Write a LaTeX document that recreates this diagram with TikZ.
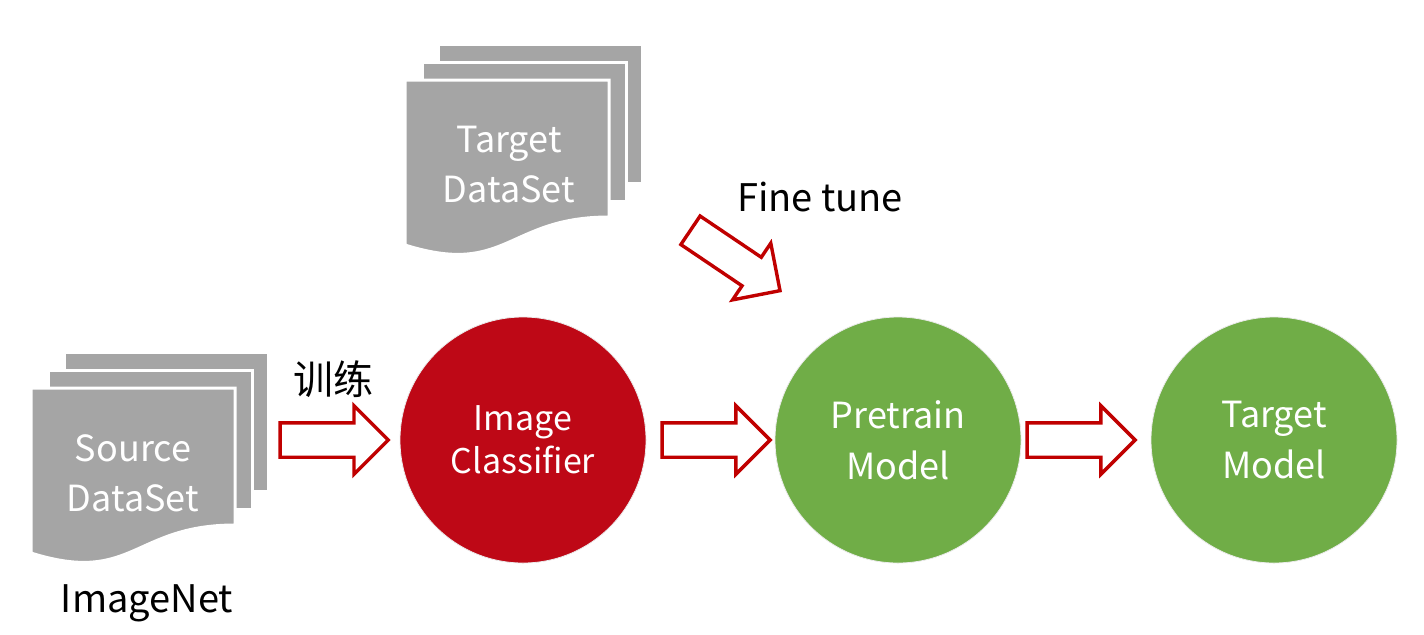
\documentclass[tikz,border=0pt]{standalone}
\usepackage{fontspec}
\setmainfont{Noto Sans CJK SC}
\usetikzlibrary{shapes.arrows,positioning}
\definecolor{clsred}{HTML}{BE0816}
\definecolor{modgreen}{HTML}{70AD47}
\definecolor{docgray}{HTML}{A5A5A5}
\definecolor{arrred}{HTML}{C00000}

\begin{document}
\begin{tikzpicture}[x=0.5pt,y=-0.5pt,
    page/.style={fill=docgray,draw=white,line width=1.5pt},
    model/.style={circle,minimum size=123pt,inner sep=0pt,draw=black!8,line width=0.4pt,
        text=white,align=center,font=\fontsize{18}{25.5}\selectfont},
    blockarrow/.style={single arrow,draw=arrred,fill=white,line width=1.7pt,
        inner xsep=0pt,inner ysep=7.75pt,minimum height=54pt,
        single arrow head extend=8.5pt,single arrow head indent=0pt},
    doctext/.style={text=white,align=center,font=\fontsize{18}{25}\selectfont},
    plain/.style={font=\fontsize{19}{23}\selectfont}]
    \useasboundingbox (0,0) rectangle (1424,634);
    % the two stacks of pages
    \foreach \sx/\sy in {0/0,374/-308} {
        \begin{scope}[shift={(\sx,\sy)}]
            \draw [page] (64,352) rectangle ++(204,139);
            \draw [page] (48,370) rectangle ++(204,139);
            \draw [page] (31,388) -- (235,388) -- (235,525)
                .. controls (133,525) and (133,585) .. (31,553) -- cycle;
        \end{scope}
    }
    \node [doctext] (source) at (133,473) {Source\\DataSet};
    \node [doctext] (target) at (509,165) {Target\\DataSet};
    \node [plain,anchor=base] (imagenet) at (147,612) {ImageNet};
    % models
    \node [model,fill=clsred,font=\fontsize{17}{21.5}\selectfont] (classifier) at (523,440) {Image\\Classifier};
    \node [model,fill=modgreen] (pretrain) at (898,440) {Pretrain\\Model};
    \node [model,fill=modgreen] (targetmodel) at (1274,440) {Target\\Model};
    % arrows
    \node [blockarrow,left=4.5pt of classifier] (trainarrow) {};
    \node [blockarrow,right=7pt of classifier] (pretrainarrow) {};
    \node [blockarrow,right=2pt of pretrain] (targetarrow) {};
    \node [blockarrow,rotate=-34,anchor=tip] (tunearrow) at (782,292) {};
    \node [plain,font=\fontsize{20}{24}\selectfont] (train) at (333,379) {训练};
    \node [plain,anchor=base] (finetune) at (820,211) {Fine tune};
\end{tikzpicture}
\end{document}
